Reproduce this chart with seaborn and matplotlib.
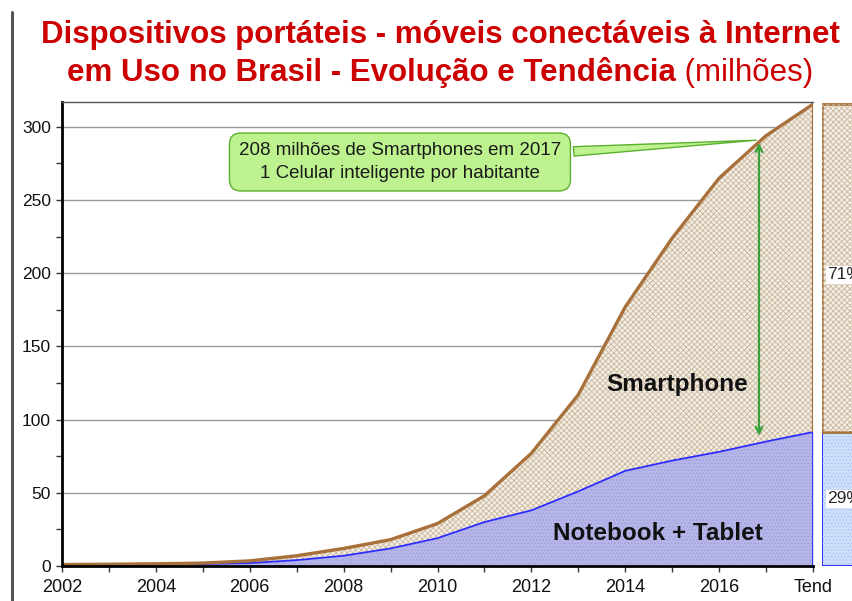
import matplotlib
matplotlib.use('Agg')
import matplotlib.pyplot as plt
import seaborn as sns
import numpy as np
import pandas as pd
from matplotlib.lines import Line2D

# data (millions of devices)
years = [2002, 2003, 2004, 2005, 2006, 2007, 2008, 2009, 2010,
         2011, 2012, 2013, 2014, 2015, 2016, 2017, 2018]
notebook_tablet = [0.5, 0.7, 1, 1.3, 2, 4, 7, 12, 19,
                   30, 38, 51, 65, 72, 78, 85, 91.5]
total_devices = [1, 1.2, 1.5, 2, 3.5, 7, 12, 18, 29,
                 48, 77, 117, 177, 224, 265, 294, 315.5]
tick_years = [2002, 2004, 2006, 2008, 2010, 2012, 2014, 2016, 2018]
tick_labels = ['2002', '2004', '2006', '2008', '2010', '2012', '2014', '2016', 'Tend']
share_labels = ['29%', '71%']
share_values = [29, 71]
gap_2017 = (87, 291)

df = pd.DataFrame({'ano': years, 'nt': notebook_tablet, 'total': total_devices})

sns.set_theme(style='white')
plt.rcParams['font.family'] = ['Liberation Sans', 'DejaVu Sans']
plt.rcParams['hatch.linewidth'] = 0.6

W, H = 853, 601
fig = plt.figure(figsize=(W / 100, H / 100), dpi=100)
ax = fig.add_axes([62 / W, 1 - 566 / H, (813 - 62) / W, (566 - 102) / H])

brown = '#a8703a'
blue = '#2b2bff'
beige = '#f3eee5'
hatch_brown = '#cbb89c'

# areas
ax.fill_between(df['ano'], 0, df['nt'], facecolor='#b6b6ea', lw=0)
ax.fill_between(df['ano'], 0, df['nt'], facecolor='none', edgecolor='#9d9dd8', hatch='.....', lw=0)
ax.fill_between(df['ano'], df['nt'], df['total'], facecolor=beige, lw=0)
ax.fill_between(df['ano'], df['nt'], df['total'], facecolor='none', edgecolor=hatch_brown,
                hatch='xxxxxx', lw=0)

sns.lineplot(data=df, x='ano', y='nt', ax=ax, color=blue, lw=1.3)
sns.lineplot(data=df, x='ano', y='total', ax=ax, color=brown, lw=2.4)
ax.vlines(years[-1], notebook_tablet[-1], total_devices[-1], color=brown, lw=2.4)
ax.vlines(years[-1], 0, notebook_tablet[-1], color=blue, lw=1.3)

ax.set_xlim(2002, 2018)
ax.set_ylim(0, 317)
ax.set_xlabel('')
ax.set_ylabel('')

ax.set_yticks(np.arange(0, 301, 50))
ax.set_yticks(np.arange(0, 301, 25), minor=True)
ax.set_xticks(years, minor=True)
ax.set_xticks(tick_years)
ax.set_xticklabels(tick_labels)
ax.tick_params(axis='both', which='both', direction='out', length=4, width=1, color='#333333',
               labelcolor='#111111', left=True, bottom=True)
ax.tick_params(axis='x', labelsize=13, pad=5)
ax.tick_params(axis='y', labelsize=12.5, pad=4)
ax.grid(axis='y', which='major', color='#999999', lw=1)
ax.set_axisbelow(True)

for s in ['left', 'bottom']:
    ax.spines[s].set_color('black')
    ax.spines[s].set_linewidth(2)
ax.spines['top'].set_color('#555555')
ax.spines['top'].set_linewidth(1)
ax.spines['right'].set_visible(False)

# labels inside areas
ax.text(2015.1, 124, 'Smartphone', ha='center', va='center', fontsize=17.5, fontweight='bold',
        color='#111111')
ax.text(2014.7, 22, 'Notebook + Tablet', ha='center', va='center', fontsize=17.5, fontweight='bold',
        color='#111111')

# 2017 gap arrow and callout
ax.annotate('', xy=(2016.85, gap_2017[1]), xytext=(2016.85, gap_2017[0]),
            arrowprops=dict(arrowstyle='<->', color='#3aa03a', lw=1.6))
ax.annotate('208 milhões de Smartphones em 2017\n1 Celular inteligente por habitante',
            xy=(2016.85, gap_2017[1]), xytext=(2009.2, 276), ha='center', va='center',
            fontsize=13.5, linespacing=1.4, color='#1a1a1a',
            bbox=dict(boxstyle='round,pad=0.5,rounding_size=0.6', fc='#bdf28e', ec='#5cb030', lw=1),
            arrowprops=dict(arrowstyle='wedge,tail_width=0.5', fc='#bdf28e', ec='#5cb030', lw=1))

# right side share bar (cut by the figure edge)
ax2 = fig.add_axes([822 / W, 1 - 566 / H, 0.2, (566 - 102) / H])
ax2.set_xlim(0, 1)
ax2.set_ylim(0, 100.4)
ax2.bar(0, share_values[0], width=2, align='edge', color='#cfe0fa', edgecolor=blue, lw=1.5)
ax2.bar(0, share_values[0], width=2, align='edge', color='none', edgecolor='#a9c2ef', hatch='.....', lw=0)
ax2.bar(0, share_values[1], bottom=share_values[0], width=2, align='edge', color=beige,
        edgecolor=brown, lw=2)
ax2.bar(0, share_values[1], bottom=share_values[0], width=2, align='edge', color='none',
        edgecolor=hatch_brown, hatch='xxxxxx', lw=0)
ax2.text(0.03, share_values[0] / 2, share_labels[0], ha='left', va='center', fontsize=12.5,
         bbox=dict(fc='white', ec='none', pad=1))
ax2.text(0.03, share_values[0] + share_values[1] / 2 - 1.5, share_labels[1], ha='left', va='center',
         fontsize=12.5, bbox=dict(fc='white', ec='none', pad=1))
ax2.axis('off')

# left frame line
fig.add_artist(Line2D([12 / W, 12 / W], [0, 1 - 12 / H], color='#555555', lw=2.2))

# title
red = '#cc0000'
fig.text(440 / W, 1 - 35 / H, 'Dispositivos portáteis - móveis conectáveis à Internet',
         ha='center', va='center', fontsize=22.5, fontweight='bold', color=red)
fig.canvas.draw()
r = fig.canvas.get_renderer()
t1 = fig.text(0, 1 - 73 / H, 'em Uso no Brasil - Evolução e Tendência', ha='left', va='center',
              fontsize=22.5, fontweight='bold', color=red)
t2 = fig.text(0, 1 - 73 / H, ' (milhões)', ha='left', va='center', fontsize=22.5, color=red)
w1 = t1.get_window_extent(r).width
w2 = t2.get_window_extent(r).width
x0 = 440 - (w1 + w2) / 2
t1.set_x(x0 / W)
t2.set_x((x0 + w1) / W)

fig.savefig('out.png', dpi=100)
